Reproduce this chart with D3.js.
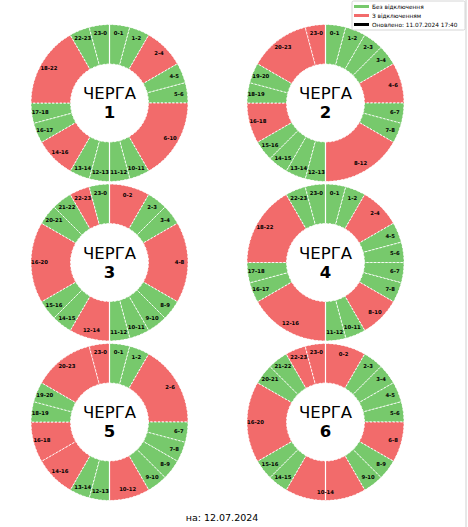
<!DOCTYPE html>
<html>
<head>
<meta charset="utf-8">
<script src="https://cdn.jsdelivr.net/npm/d3@7"></script>
<style>
  body { margin: 0; background: #fff; }
  svg { display: block; font-family: "DejaVu Sans", sans-serif; }
</style>
</head>
<body>
<svg id="chart" width="468" height="527"></svg>
<script>
(function () {
  'use strict';

  // 0 = без відключення, 1 = з відключенням
  var queueNames = ["1", "2", "3", "4", "5", "6"];

  var schedule1 = [["0-1", 0], ["1-2", 0], ["2-4", 1], ["4-5", 0], ["5-6", 0], ["6-10", 1],
    ["10-11", 0], ["11-12", 0], ["12-13", 0], ["13-14", 0], ["14-16", 1], ["16-17", 0],
    ["17-18", 0], ["18-22", 1], ["22-23", 0], ["23-0", 0]];
  var schedule2 = [["0-1", 0], ["1-2", 0], ["2-3", 0], ["3-4", 0], ["4-6", 1], ["6-7", 0],
    ["7-8", 0], ["8-12", 1], ["12-13", 0], ["13-14", 0], ["14-15", 0], ["15-16", 0],
    ["16-18", 1], ["18-19", 0], ["19-20", 0], ["20-23", 1], ["23-0", 1]];
  var schedule3 = [["0-2", 1], ["2-3", 0], ["3-4", 0], ["4-8", 1], ["8-9", 0], ["9-10", 0],
    ["10-11", 0], ["11-12", 0], ["12-14", 1], ["14-15", 0], ["15-16", 0], ["16-20", 1],
    ["20-21", 0], ["21-22", 0], ["22-23", 1], ["23-0", 0]];
  var schedule4 = [["0-1", 0], ["1-2", 0], ["2-4", 1], ["4-5", 0], ["5-6", 0], ["6-7", 0],
    ["7-8", 0], ["8-10", 1], ["10-11", 0], ["11-12", 0], ["12-16", 1], ["16-17", 0],
    ["17-18", 0], ["18-22", 1], ["22-23", 0], ["23-0", 0]];
  var schedule5 = [["0-1", 0], ["1-2", 0], ["2-6", 1], ["6-7", 0], ["7-8", 0], ["8-9", 0],
    ["9-10", 0], ["10-12", 1], ["12-13", 0], ["13-14", 0], ["14-16", 1], ["16-18", 1],
    ["18-19", 0], ["19-20", 0], ["20-23", 1], ["23-0", 1]];
  var schedule6 = [["0-2", 1], ["2-3", 0], ["3-4", 0], ["4-5", 0], ["5-6", 0], ["6-8", 1],
    ["8-9", 0], ["9-10", 0], ["10-14", 1], ["14-15", 0], ["15-16", 0], ["16-20", 1],
    ["20-21", 0], ["21-22", 0], ["22-23", 1], ["23-0", 1]];

  var schedules = [schedule1, schedule2, schedule3, schedule4, schedule5, schedule6];

  var legendLabels = ["Без відключення", "З відключенням", "Оновлено: 11.07.2024 17:40"];
  var dateLabel = "на: 12.07.2024";

  var colors = { 0: "#77c96c", 1: "#f26b6b" };
  var legendColors = ["#77c96c", "#f26b6b", "#000000"];

  var svg = d3.select("#chart");

  // розмiщення сiтки 2 x 3
  var col = d3.scalePoint().domain([0, 1]).range([109.5, 325.5]);
  var row = d3.scalePoint().domain([0, 1, 2]).range([103, 422]);

  var outerR = 78.5;
  var innerR = 39;
  var labelR = 70;

  // тривалiсть сегмента у годинах
  function hours(d) {
    var p = d[0].split("-").map(Number);
    var end = p[1] === 0 ? 24 : p[1];
    return end - p[0];
  }

  var pie = d3.pie()
    .sort(null)
    .value(hours)
    .startAngle(0)
    .endAngle(2 * Math.PI);

  var arc = d3.arc().innerRadius(innerR).outerRadius(outerR);
  var labelArc = d3.arc().innerRadius(labelR).outerRadius(labelR);

  schedules.forEach(function (sched, i) {
    var g = svg.append("g")
      .attr("transform", "translate(" + col(i % 2) + "," + row(Math.floor(i / 2)) + ")");

    var arcs = pie(sched);

    g.selectAll("path.seg")
      .data(arcs)
      .enter()
      .append("path")
      .attr("class", "seg")
      .attr("d", arc)
      .attr("fill", function (d) { return colors[d.data[1]]; })
      .attr("stroke", "#ffffff")
      .attr("stroke-width", 0.9)
      .attr("stroke-dasharray", "2.2,1.6");

    // суцiльна вертикальна лiнiя (0 та 12 година)
    [-1, 1].forEach(function (s) {
      g.append("line")
        .attr("x1", 0).attr("x2", 0)
        .attr("y1", s * innerR).attr("y2", s * outerR)
        .attr("stroke", "#ffffff")
        .attr("stroke-width", 1.2);
    });

    g.selectAll("text.lbl")
      .data(arcs)
      .enter()
      .append("text")
      .attr("class", "lbl")
      .attr("transform", function (d) { return "translate(" + labelArc.centroid(d) + ")"; })
      .attr("text-anchor", "middle")
      .attr("dy", "0.35em")
      .style("font-size", "5.3px")
      .style("font-weight", "bold")
      .attr("fill", "#000")
      .text(function (d) { return d.data[0]; });

    g.append("text")
      .attr("text-anchor", "middle")
      .attr("y", -4)
      .style("font-size", "16.5px")
      .attr("fill", "#000")
      .text("ЧЕРГА");

    g.append("text")
      .attr("text-anchor", "middle")
      .attr("y", 15)
      .style("font-size", "16.5px")
      .style("font-weight", "bold")
      .attr("fill", "#000")
      .text(queueNames[i]);
  });

  // легенда
  var legend = svg.append("g").attr("transform", "translate(352,1)");
  legend.append("rect")
    .attr("width", 113).attr("height", 29)
    .attr("fill", "#fff").attr("fill-opacity", 0.85)
    .attr("stroke", "#cccccc").attr("stroke-width", 0.8)
    .attr("rx", 1.5);

  var ly = d3.scalePoint().domain([0, 1, 2]).range([5.5, 23.5]);
  legendLabels.forEach(function (t, k) {
    legend.append("line")
      .attr("x1", 2).attr("x2", 17)
      .attr("y1", ly(k)).attr("y2", ly(k))
      .attr("stroke", legendColors[k])
      .attr("stroke-width", 3);
    legend.append("text")
      .attr("x", 20).attr("y", ly(k))
      .attr("dy", "0.35em")
      .style("font-size", "5.8px")
      .attr("fill", "#000")
      .text(t);
  });

  // рамка праворуч
  svg.append("line")
    .attr("x1", 466).attr("x2", 466)
    .attr("y1", 0).attr("y2", 527)
    .attr("stroke", "#d0d0d0").attr("stroke-width", 1);

  svg.append("text")
    .attr("x", 222).attr("y", 521)
    .attr("text-anchor", "middle")
    .style("font-size", "9.5px")
    .attr("fill", "#000")
    .text(dateLabel);

}());
</script>
</body>
</html>
